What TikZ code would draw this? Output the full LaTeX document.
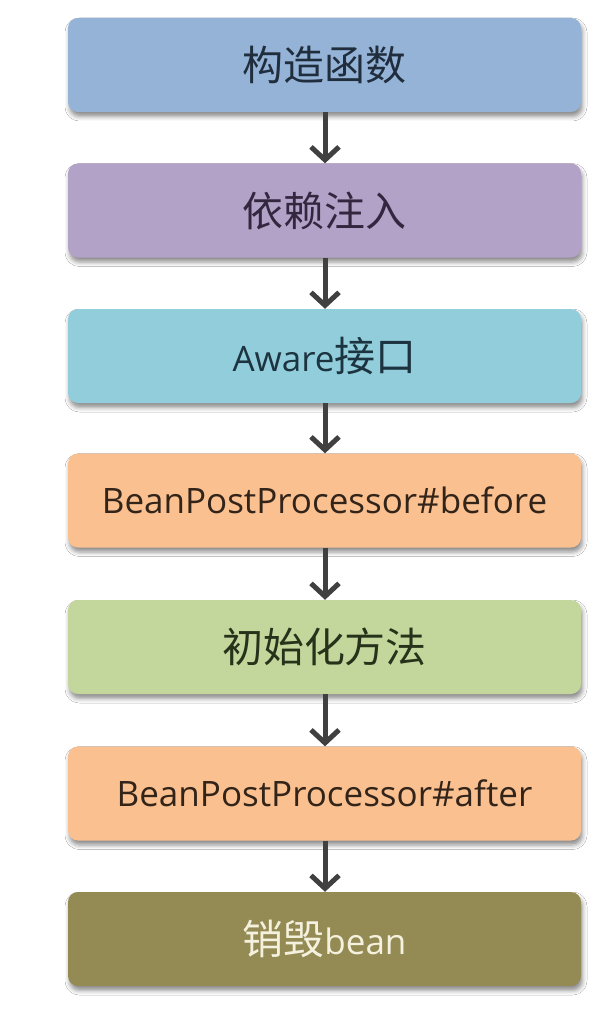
\documentclass[tikz,border=0pt]{standalone}
\usepackage{fontspec}
\setmainfont{Open Sans}
\newfontfamily\cjk[Scale=1.17]{Noto Sans CJK SC}
\usetikzlibrary{arrows.meta,shadows.blur}
\definecolor{c1}{HTML}{95B3D7}
\definecolor{c2}{HTML}{B3A2C7}
\definecolor{c3}{HTML}{92CDDC}
\definecolor{c4}{HTML}{FAC090}
\definecolor{c5}{HTML}{C3D69B}
\definecolor{c7}{HTML}{948A54}
\definecolor{t1}{HTML}{1F2D3D}
\definecolor{t2}{HTML}{33263F}
\definecolor{t3}{HTML}{1C3440}
\definecolor{t4}{HTML}{33241A}
\definecolor{t5}{HTML}{26321A}
\definecolor{t7}{HTML}{F4F1DE}
\definecolor{arrcol}{HTML}{404040}
\tikzset{
  stagebox/.style={rectangle, rounded corners=10pt, minimum width=513pt, minimum height=94pt,
    inner sep=0pt, font=\fontsize{35}{40}\selectfont,
    blur shadow={shadow xshift=1.5pt, shadow yshift=-4.5pt, shadow blur radius=4.5pt, shadow opacity=45}},
  flowarrow/.style={draw=arrcol, line width=5pt, -{Straight Barb[length=13pt,width=28pt]}}
}
\begin{document}
\begin{tikzpicture}[x=1pt,y=-1pt]
\useasboundingbox (0,0) rectangle (612,1016);
\fill[white] (0,0) rectangle (612,1016);
\node[stagebox, fill=c1, text=t1] (b1) at (324.5,65) {\cjk 构造函数};
\node[stagebox, fill=c2, text=t2] (b2) at (324.5,210.5) {\cjk 依赖注入};
\node[stagebox, fill=c3, text=t3] (b3) at (324.5,356) {Aware{\cjk 接口}};
\node[stagebox, fill=c4, text=t4] (b4) at (324.5,500.5) {BeanPostProcessor\#before};
\node[stagebox, fill=c5, text=t5] (b5) at (324.5,647) {\cjk 初始化方法};
\node[stagebox, fill=c4, text=t4] (b6) at (324.5,793.5) {BeanPostProcessor\#after};
\node[stagebox, fill=c7, text=t7] (b7) at (324.5,939) {{\cjk 销毁}bean};
\draw[flowarrow] ([xshift=0.5pt]b1.south) -- ([xshift=0.5pt]b2.north);
\draw[flowarrow] ([xshift=0.5pt]b2.south) -- ([xshift=0.5pt]b3.north);
\draw[flowarrow] ([xshift=0.5pt]b3.south) -- ([xshift=0.5pt]b4.north);
\draw[flowarrow] ([xshift=0.5pt]b4.south) -- ([xshift=0.5pt]b5.north);
\draw[flowarrow] ([xshift=0.5pt]b5.south) -- ([xshift=0.5pt]b6.north);
\draw[flowarrow] ([xshift=0.5pt]b6.south) -- ([xshift=0.5pt]b7.north);
\end{tikzpicture}
\end{document}
